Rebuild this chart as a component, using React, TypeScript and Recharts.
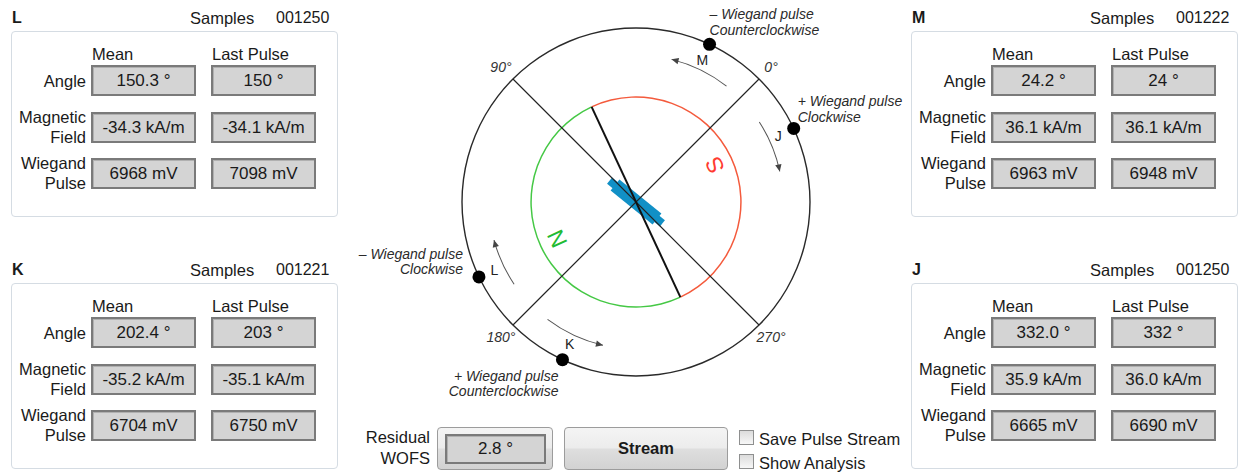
import React from 'react';
import { PieChart, Pie, Cell, ScatterChart, Scatter, XAxis, YAxis, ReferenceLine } from 'recharts';

const FONT = '"Liberation Sans", Arial, sans-serif';

// ---------- dial data ----------
const degreeTicks = [0, 90, 180, 270];
const dialOffset = 45; // math angle where the dial's 0° sits
const markerNames = ['M', 'J', 'L', 'K'];
const markerAngles = [65, 25, 205.5, 245];
const markerNotes = [
  ['– Wiegand pulse', 'Counterclockwise'],
  ['+ Wiegand pulse', 'Clockwise'],
  ['– Wiegand pulse', 'Clockwise'],
  ['+ Wiegand pulse', 'Counterclockwise'],
];
const needleAngle = 115;
const magnetAngle = 141;
const arrowFrom = [52, 33, 214, 233];
const arrowTo = [76, 12, 195, 257];
const poleNames = ['S', 'N'];
const poleShift = [-90, 90];

// ---------- panel data ----------
const panelNames = ['L', 'M', 'K', 'J'];
const panelSamples = ['001250', '001222', '001221', '001250'];
const meanAngle = [150.3, 24.2, 202.4, 332.0];
const lastAngle = [150, 24, 203, 332];
const meanField = [-34.3, 36.1, -35.2, 35.9];
const lastField = [-34.1, 36.1, -35.1, 36.0];
const meanPulse = [6968, 6963, 6704, 6665];
const lastPulse = [7098, 6948, 6750, 6690];
const residualWofs = 2.8;

// ---------- geometry / style ----------
const W = 570, H = 420, CX = 296, CY = 202, RPX = 174;
const INNER_PX = 105;
const ARROW_PX = 147;
const xDomain = [-CX / RPX, (W - CX) / RPX];
const yDomain = [-(H - CY) / RPX, CY / RPX];
const LABEL_R = 157 / RPX;
const TICK_R = 191 / RPX;
const POLE_R = 87 / RPX;
const INNER_R = INNER_PX / RPX;
const panelPos = [
  { x: 11, y: 31 },
  { x: 911, y: 31 },
  { x: 11, y: 283 },
  { x: 911, y: 283 },
];
const noteLayout = [
  { anchor: 'start', dx: 0, dy: -30 },
  { anchor: 'start', dx: 4, dy: -27 },
  { anchor: 'end', dx: -16, dy: -23 },
  { anchor: 'end', dx: -4, dy: 16 },
];

const rad = (d: number) => (d * Math.PI) / 180;
const polar = (deg: number, r: number) => ({ x: r * Math.cos(rad(deg)), y: r * Math.sin(rad(deg)) });

const dots = markerAngles.map((a, i) => ({ ...polar(a, 1), i }));
const letters = markerAngles.map((a, i) => ({ ...polar(a, LABEL_R), name: markerNames[i] }));
const ticks = degreeTicks.map((t) => ({ ...polar(t + dialOffset, TICK_R), label: `${t}°` }));
const heads = arrowTo.map((a, i) => ({
  ...polar(a, ARROW_PX / RPX),
  tangent: arrowTo[i] > arrowFrom[i] ? a + 90 : a - 90,
}));
const poles = poleNames.map((n, i) => {
  const a = needleAngle + poleShift[i];
  return { ...polar(a, POLE_R), name: n, rot: -90 - a };
});
const ringHalves = [
  { name: 'N', v: 180 },
  { name: 'S', v: 180 },
];

const seg = (deg: number, r: number) => {
  const a = polar(deg, r);
  const b = polar(deg + 180, r);
  return [a, b];
};

function Dial() {
  return (
    <div style={{ position: 'absolute', left: 340, top: 0, width: W, height: H }}>
      <div style={{ position: 'absolute', left: 0, top: 0 }}>
        <PieChart width={W} height={H} margin={{ top: 0, right: 0, bottom: 0, left: 0 }}>
          <Pie data={[{ v: 1 }]} dataKey="v" cx={CX} cy={CY} innerRadius={RPX - 0.7} outerRadius={RPX + 0.7}
            startAngle={0} endAngle={360} fill="#2a2a2a" stroke="none" isAnimationActive={false} />
          <Pie data={ringHalves} dataKey="v" cx={CX} cy={CY} innerRadius={INNER_PX - 0.75} outerRadius={INNER_PX + 0.75}
            startAngle={needleAngle} endAngle={needleAngle + 360} stroke="none" isAnimationActive={false}>
            <Cell fill="#45c845" />
            <Cell fill="#f45a3c" />
          </Pie>
          {arrowFrom.map((f, i) => (
            <Pie key={i} data={[{ v: 1 }]} dataKey="v" cx={CX} cy={CY} innerRadius={ARROW_PX - 0.5} outerRadius={ARROW_PX + 0.5}
              startAngle={f} endAngle={arrowTo[i]} fill="#555" stroke="none" isAnimationActive={false} />
          ))}
        </PieChart>
      </div>
      <div style={{ position: 'absolute', left: 0, top: 0 }}>
        <ScatterChart width={W} height={H} margin={{ top: 0, right: 0, bottom: 0, left: 0 }}>
          <XAxis type="number" dataKey="x" domain={xDomain} allowDataOverflow hide />
          <YAxis type="number" dataKey="y" domain={yDomain} allowDataOverflow hide />
          <ReferenceLine segment={seg(magnetAngle, 34 / RPX)} stroke="#1190c6" strokeWidth={8} ifOverflow="visible" />
          <ReferenceLine segment={seg(magnetAngle, 27 / RPX)} stroke="#1190c6" strokeWidth={14} ifOverflow="visible" />
          {degreeTicks.slice(0, 2).map((t) => (
            <ReferenceLine key={t} segment={seg(t + dialOffset, 1)} stroke="#222" strokeWidth={1.2} ifOverflow="visible" />
          ))}
          <ReferenceLine segment={seg(needleAngle, INNER_R)} stroke="#111" strokeWidth={2} ifOverflow="visible" />
          <Scatter data={dots} isAnimationActive={false}
            shape={(p: any) => {
              const L = noteLayout[p.payload.i];
              const lines = markerNotes[p.payload.i];
              return (
                <g>
                  <circle cx={p.cx} cy={p.cy} r={6.5} fill="#000" />
                  {lines.map((ln: string, k: number) => (
                    <text key={k} x={p.cx + L.dx} y={p.cy + L.dy + k * 15.5} textAnchor={L.anchor} dominantBaseline="central"
                      fontFamily={FONT} fontStyle="italic" fontSize={14} fill="#2a2a2a">{ln}</text>
                  ))}
                </g>
              );
            }} />
          <Scatter data={letters} isAnimationActive={false}
            shape={(p: any) => (
              <text x={p.cx} y={p.cy} textAnchor="middle" dominantBaseline="central" fontFamily={FONT} fontSize={14} fill="#222">
                {p.payload.name}
              </text>
            )} />
          <Scatter data={ticks} isAnimationActive={false}
            shape={(p: any) => (
              <text x={p.cx} y={p.cy} textAnchor="middle" dominantBaseline="central" fontFamily={FONT} fontStyle="italic" fontSize={14} fill="#333">
                {p.payload.label}
              </text>
            )} />
          <Scatter data={heads} isAnimationActive={false}
            shape={(p: any) => (
              <polygon points="0,0 -7,-3.2 -7,3.2" fill="#444" transform={`translate(${p.cx},${p.cy}) rotate(${-p.payload.tangent})`} />
            )} />
          <Scatter data={poles} isAnimationActive={false}
            shape={(p: any) => (
              <text x={p.cx} y={p.cy} textAnchor="middle" dominantBaseline="central" fontFamily={FONT} fontSize={23}
                fill={p.payload.name === 'N' ? '#22bb33' : '#ff3b30'} transform={`rotate(${p.payload.rot} ${p.cx} ${p.cy})`}>
                {p.payload.name}
              </text>
            )} />
        </ScatterChart>
      </div>
    </div>
  );
}

function Field({ left, top, text }: { left: number; top: number; text: string }) {
  return (
    <div style={{
      position: 'absolute', left, top, width: 105, height: 31, boxSizing: 'border-box',
      border: '2px solid #7a7a7a', boxShadow: 'inset 1px 1px 0 #b0b0b0', background: '#d4d4d4',
      display: 'flex', alignItems: 'center', justifyContent: 'center', fontSize: 17, color: '#1a1a1a',
    }}>{text}</div>
  );
}

function Panel({ i }: { i: number }) {
  const { x, y } = panelPos[i];
  const rowTops = [y + 34, y + 81, y + 127];
  const labels = [['Angle'], ['Magnetic', 'Field'], ['Wiegand', 'Pulse']];
  const means = [`${meanAngle[i].toFixed(1)} °`, `${meanField[i].toFixed(1)} kA/m`, `${meanPulse[i]} mV`];
  const lasts = [`${lastAngle[i]} °`, `${lastField[i].toFixed(1)} kA/m`, `${lastPulse[i]} mV`];
  return (
    <>
      <div style={{ position: 'absolute', left: x + 1, top: y - 23, lineHeight: '20px', fontWeight: 'bold' }}>{panelNames[i]}</div>
      <div style={{ position: 'absolute', left: x + 179, top: y - 23, lineHeight: '20px', fontSize: 16.5 }}>Samples</div>
      <div style={{ position: 'absolute', left: x + 265, top: y - 23, lineHeight: '20px' }}>{panelSamples[i]}</div>
      <div style={{ position: 'absolute', left: x, top: y, width: 327, height: 186, boxSizing: 'border-box', border: '1px solid #d5dce3', borderRadius: 4 }} />
      <div style={{ position: 'absolute', left: x + 81, top: y + 13, lineHeight: '20px', fontSize: 16.5 }}>Mean</div>
      <div style={{ position: 'absolute', left: x + 201, top: y + 13, lineHeight: '20px', fontSize: 16.5 }}>Last Pulse</div>
      {rowTops.map((t, k) => (
        <React.Fragment key={k}>
          <div style={{
            position: 'absolute', left: x - 10, width: 85, textAlign: 'right', lineHeight: '20px', fontSize: 16.5,
            top: labels[k].length === 1 ? t + 6 : t - 5,
          }}>
            {labels[k].map((s, j) => <div key={j}>{s}</div>)}
          </div>
          <Field left={x + 80} top={t} text={means[k]} />
          <Field left={x + 200} top={t} text={lasts[k]} />
        </React.Fragment>
      ))}
    </>
  );
}

const btnBg = 'linear-gradient(#f4f4f4 0%, #ececec 48%, #dedede 52%, #d2d2d2 100%)';

export default function App() {
  return (
    <div style={{
      position: 'absolute', left: 0, top: 0, width: 1240, height: 472, overflow: 'hidden', background: '#fff',
      fontFamily: FONT, fontSize: 16, color: '#1a1a1a',
    }}>
      <Dial />
      {panelNames.map((_, i) => <Panel key={i} i={i} />)}
      <div style={{ position: 'absolute', left: 340, top: 427, width: 90, textAlign: 'right', lineHeight: '21px', fontSize: 16.5 }}>
        <div>Residual</div>
        <div>WOFS</div>
      </div>
      <div style={{ position: 'absolute', left: 437, top: 427, width: 116, height: 43, boxSizing: 'border-box', border: '1px solid #9c9c9c', borderRadius: 4, background: btnBg }} />
      <div style={{
        position: 'absolute', left: 445, top: 434, width: 101, height: 30, boxSizing: 'border-box',
        border: '2px solid #7a7a7a', boxShadow: 'inset 1px 1px 0 #b0b0b0', background: '#d4d4d4',
        display: 'flex', alignItems: 'center', justifyContent: 'center', fontSize: 17,
      }}>{`${residualWofs.toFixed(1)} °`}</div>
      <div style={{
        position: 'absolute', left: 564, top: 427, width: 164, height: 43, boxSizing: 'border-box',
        border: '1px solid #9c9c9c', borderRadius: 4, background: btnBg,
        display: 'flex', alignItems: 'center', justifyContent: 'center', fontWeight: 'bold', fontSize: 16.5,
      }}>Stream</div>
      {['Save Pulse Stream', 'Show Analysis'].map((s, k) => (
        <React.Fragment key={s}>
          <div style={{ position: 'absolute', left: 739, top: 430 + k * 24, width: 15, height: 15, boxSizing: 'border-box', border: '1px solid #8e8f8f', background: 'linear-gradient(#dcdcdc, #f7f7f7)' }} />
          <div style={{ position: 'absolute', left: 759, top: 429 + k * 24, lineHeight: '20px', fontSize: 16.5 }}>{s}</div>
        </React.Fragment>
      ))}
    </div>
  );
}
